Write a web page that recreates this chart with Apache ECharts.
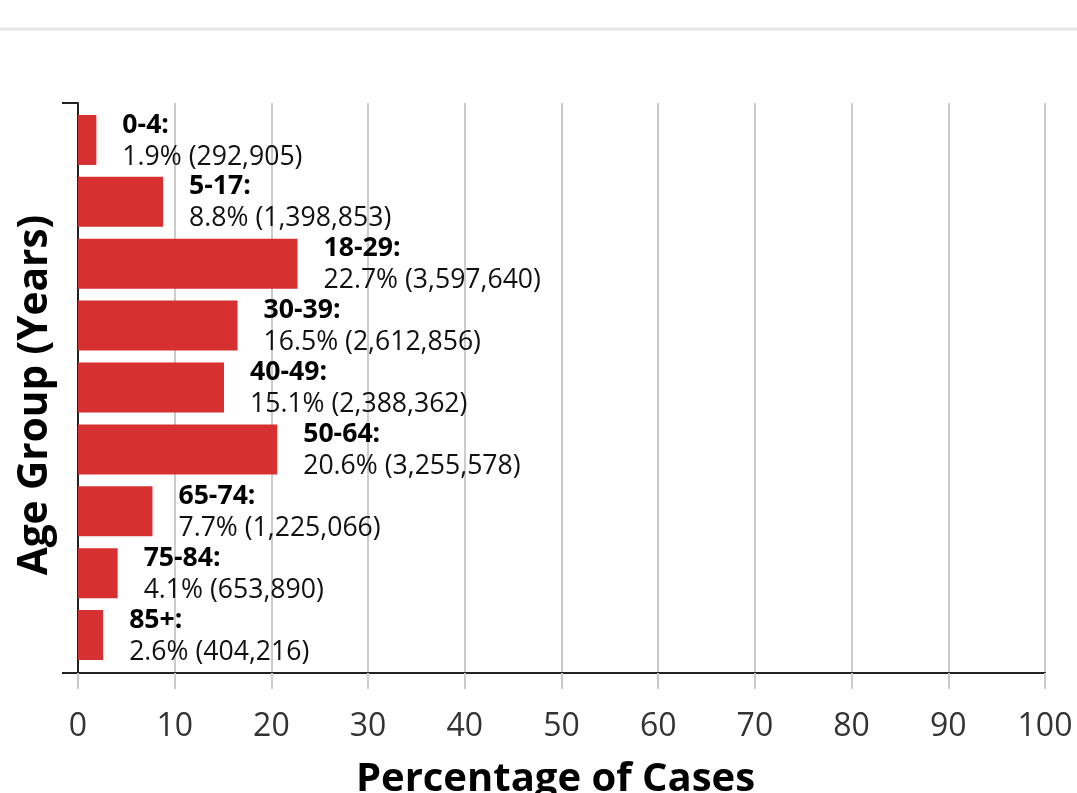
<!DOCTYPE html>
<html>
<head>
<meta charset="utf-8">
<script src="https://cdn.jsdelivr.net/npm/echarts@6/dist/echarts.min.js"></script>
<style>
html,body{margin:0;padding:0;background:#fff;}
#chart{width:1077px;height:793px;}
</style>
</head>
<body>
<div id="chart"></div>
<script>
const categories = ['0-4','5-17','18-29','30-39','40-49','50-64','65-74','75-84','85+'];
const percentValues = [1.9, 8.8, 22.7, 16.5, 15.1, 20.6, 7.7, 4.1, 2.6];
const caseCounts = [292905, 1398853, 3597640, 2612856, 2388362, 3255578, 1225066, 653890, 404216];
const xTicks = [0,10,20,30,40,50,60,70,80,90,100];

const FONT = '"Open Sans", "DejaVu Sans", sans-serif';
const chart = echarts.init(document.getElementById('chart'), null, {renderer:'canvas'});

const option = {
  backgroundColor: '#fff',
  animation: false,
  textStyle: {fontFamily: FONT},
  graphic: [{
    type: 'line', shape: {x1: 0, y1: 29, x2: 1077, y2: 29},
    style: {stroke: '#e6e6e6', lineWidth: 3}, silent: true
  }],
  grid: [
    {left: 78, right: 32, top: 109, height: 557, containLabel: false, outerBoundsMode: 'none'},
    {left: 78, right: 32, top: 103, bottom: 120, containLabel: false, outerBoundsMode: 'none'}
  ],
  xAxis: [
    {gridIndex: 0, type: 'value', min: 0, max: 100, show: false},
    {gridIndex: 1, type: 'value', min: xTicks[0], max: xTicks[xTicks.length-1], interval: 10,
     axisLine: {show: true, lineStyle: {color: '#222', width: 2}},
     axisTick: {show: true, length: 16, lineStyle: {color: '#cccccc', width: 2}},
     splitLine: {show: true, lineStyle: {color: '#cccccc', width: 2}},
     axisLabel: {fontSize: 32, color: '#333', margin: 38, fontFamily: FONT},
     name: 'Percentage of Cases', nameLocation: 'middle', nameGap: 87,
     nameTextStyle: {fontSize: 40, fontWeight: 'bold', color: '#000', fontFamily: FONT, padding: [0, 12, 0, 0]}
    }
  ],
  yAxis: [
    {gridIndex: 0, type: 'category', data: categories, inverse: true, show: false},
    {gridIndex: 1, type: 'category', data: [''],
     axisLine: {show: true, lineStyle: {color: '#222', width: 2}},
     axisTick: {show: true, length: 16, lineStyle: {color: '#222', width: 2}},
     axisLabel: {show: false},
     splitLine: {show: false},
     name: 'Age Group (Years)', nameLocation: 'middle', nameGap: 22, nameRotate: 90,
     nameTextStyle: {fontSize: 40.5, fontWeight: 'bold', color: '#000', fontFamily: FONT, padding: [0, 14, 0, 0]}
    }
  ],
  series: [{
    type: 'bar',
    xAxisIndex: 0, yAxisIndex: 0,
    data: percentValues,
    barWidth: 50,
    itemStyle: {color: '#d63031'},
    label: {
      show: true, position: 'right', distance: 26, align: 'left', offset: [0, 1],
      formatter: p => '{b|' + categories[p.dataIndex] + ':}\n{v|' +
        percentValues[p.dataIndex].toFixed(1) + '% (' + caseCounts[p.dataIndex].toLocaleString('en-US') + ')}',
      rich: {
        b: {fontSize: 26.6, fontWeight: 'bold', color: '#000', lineHeight: 32, fontFamily: FONT},
        v: {fontSize: 26.6, color: '#111', lineHeight: 32, fontFamily: FONT}
      }
    },
    z: 3
  }]
};
chart.setOption(option);
</script>
</body>
</html>
